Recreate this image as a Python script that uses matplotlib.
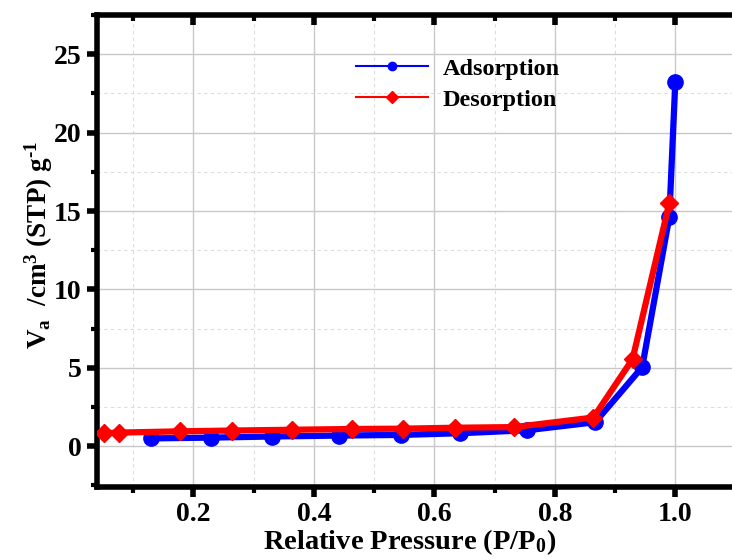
import matplotlib
matplotlib.use("Agg")
import matplotlib.pyplot as plt
from matplotlib.ticker import MultipleLocator

# N2 isotherm data
ads_p = [0.129, 0.23, 0.33, 0.442, 0.544, 0.643, 0.754, 0.867, 0.945, 0.99, 1.0]
ads_v = [0.50, 0.55, 0.62, 0.68, 0.72, 0.83, 1.02, 1.53, 5.04, 14.6, 23.25]
des_p = [0.052, 0.077, 0.178, 0.264, 0.364, 0.464, 0.548, 0.635, 0.733, 0.864, 0.929, 0.99]
des_v = [0.83, 0.87, 0.95, 1.00, 1.05, 1.10, 1.12, 1.18, 1.22, 1.83, 5.55, 15.5]

x_ticks = [0.2, 0.4, 0.6, 0.8, 1.0]
y_ticks = [0, 5, 10, 15, 20, 25]

plt.rcParams['font.family'] = ['Liberation Serif', 'DejaVu Serif']
plt.rcParams['font.weight'] = 'bold'
plt.rcParams['mathtext.fontset'] = 'custom'
plt.rcParams['mathtext.rm'] = 'Liberation Serif:bold'
plt.rcParams['mathtext.it'] = 'Liberation Serif:bold'
plt.rcParams['mathtext.bf'] = 'Liberation Serif:bold'

fig = plt.figure(figsize=(7.32, 5.6), dpi=100)
# axes extends beyond the right edge of the canvas
ax = fig.add_axes([97 / 732, 1 - 487 / 560, 700 / 732, 472 / 560])

ax.set_xlim(0.04, 1.202)
ax.set_ylim(-2.6, 27.5)

ax.plot(ads_p, ads_v, color='#0000ff', lw=4.5, marker='o', ms=11, zorder=3,
        label='Adsorption')
ax.plot(des_p, des_v, color='#ff0000', lw=4.5, marker='D', ms=9.5, zorder=4,
        label='Desorption')

ax.set_xticks(x_ticks)
ax.set_yticks(y_ticks)
ax.set_xticklabels([f"{t:.1f}" for t in x_ticks])
ax.set_yticklabels([str(t) for t in y_ticks])
ax.xaxis.set_minor_locator(MultipleLocator(0.1))
ax.yaxis.set_minor_locator(MultipleLocator(2.5))

ax.grid(which='major', color='#c8c8c8', lw=1.0, ls='-')
ax.grid(which='minor', color='#dcdcdc', lw=0.8, ls=(0, (3, 3)))
ax.set_axisbelow(True)

for side in ['left', 'bottom', 'top']:
    ax.spines[side].set_linewidth(4)
ax.spines['right'].set_visible(False)

ax.tick_params(axis='both', which='major', direction='out', length=7, width=4,
               labelsize=20, pad=4)
ax.tick_params(axis='both', which='minor', direction='out', length=4, width=3)
ax.tick_params(axis='x', which='both', top=True, labeltop=False)
ax.tick_params(axis='y', which='both', right=False)
# bottom ticks point outward, top ticks inward
for t in ax.xaxis.get_major_ticks() + ax.xaxis.get_minor_ticks():
    t.tick1line.set_marker(3)  # TICKDOWN
    t.tick2line.set_marker(3)

for lbl in ax.get_xticklabels() + ax.get_yticklabels():
    lbl.set_fontweight('bold')

ax.set_xlabel('Relative Pressure (P/P$_0$)', fontsize=20.5, fontweight='bold')
ax.xaxis.set_label_coords(0.447, -0.086)
ax.set_ylabel('V$_a$  /cm$^3$ (STP) g$^{\u2010 1}$', fontsize=19.5,
              fontweight='bold')
ax.yaxis.set_label_coords(-0.06, 0.513)

leg = ax.legend(loc='upper left', bbox_to_anchor=(0.345, 0.945), frameon=False,
                fontsize=17.5, handlelength=3, handletextpad=0.6,
                labelspacing=0.35, borderpad=0.2)
for h in leg.legend_handles:
    h.set_linewidth(1.5)
    h.set_markersize(6)

fig.savefig('out.png', dpi=100)
